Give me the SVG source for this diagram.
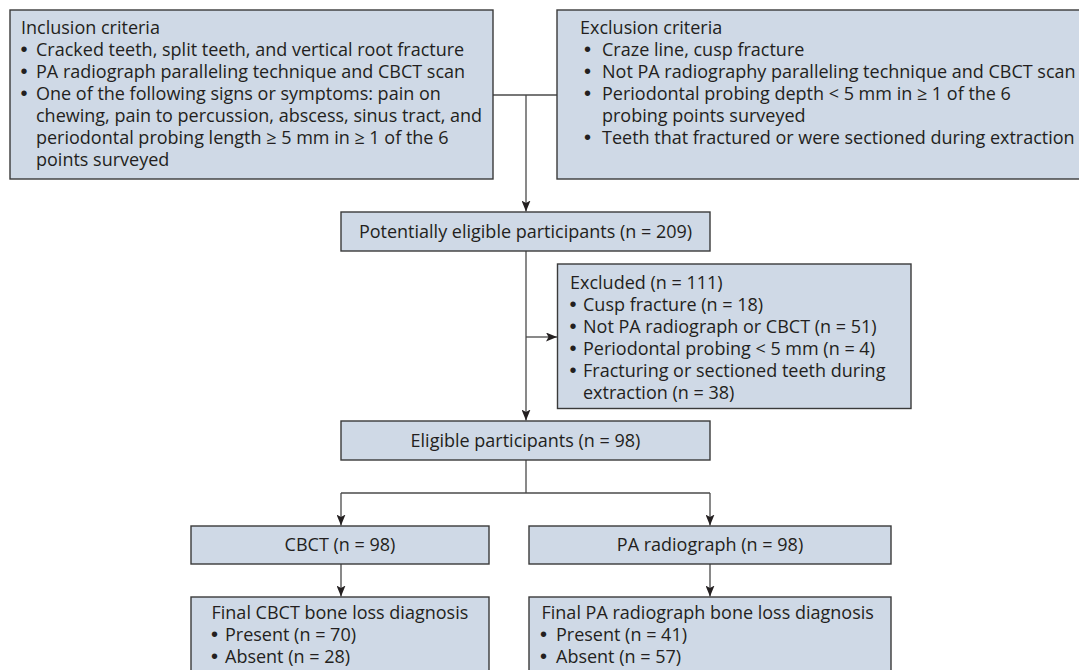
<svg xmlns="http://www.w3.org/2000/svg" width="1079" height="670" viewBox="0 0 1079 670">
<defs>
<style>
.box{fill:#cfd9e6;stroke:#3a3a3a;stroke-width:1.4}
.t{font-family:"Open Sans","Noto Sans","Liberation Sans",sans-serif;font-size:18px;fill:#231f20}
.b{font-family:"Liberation Sans","Arial",sans-serif;font-size:20px}
.c{text-anchor:middle}
.ln{fill:none;stroke:#4a4a4a;stroke-width:1.3}
</style>
<marker id="ah" viewBox="0 0 11 9" refX="11" refY="4.5" markerWidth="11" markerHeight="9" markerUnits="userSpaceOnUse" orient="auto">
<path d="M0,0 L11,4.5 L0,9 L2.5,4.5 Z" fill="#231f20"/>
</marker>
</defs>
<rect width="1079" height="670" fill="#ffffff"/>

<g id="connectors">
<line class="ln" x1="493" y1="95" x2="557" y2="95"/>
<line class="ln" x1="526" y1="95" x2="526" y2="211.5" marker-end="url(#ah)"/>
<line class="ln" x1="526" y1="251" x2="526" y2="420.5" marker-end="url(#ah)"/>
<line class="ln" x1="526" y1="337" x2="557" y2="337" marker-end="url(#ah)"/>
<line class="ln" x1="526" y1="460" x2="526" y2="493"/>
<line class="ln" x1="341" y1="493" x2="710" y2="493"/>
<line class="ln" x1="341" y1="493" x2="341" y2="525.5" marker-end="url(#ah)"/>
<line class="ln" x1="710" y1="493" x2="710" y2="525.5" marker-end="url(#ah)"/>
<line class="ln" x1="341" y1="564" x2="341" y2="596.5" marker-end="url(#ah)"/>
<line class="ln" x1="710" y1="564" x2="710" y2="596.5" marker-end="url(#ah)"/>
</g>

<g id="inclusion">
<rect class="box" x="10" y="10" width="483" height="169"/>
<text class="t" x="21" y="33.5">Inclusion criteria</text>
<text class="t" y="55.5"><tspan class="b" x="20.5">•</tspan><tspan x="36">Cracked teeth, split teeth, and vertical root fracture</tspan></text>
<text class="t" y="77.5"><tspan class="b" x="20.5">•</tspan><tspan x="36">PA radiograph paralleling technique and CBCT scan</tspan></text>
<text class="t" y="99.5"><tspan class="b" x="20.5">•</tspan><tspan x="36">One of the following signs or symptoms: pain on</tspan></text>
<text class="t" x="36" y="121.5">chewing, pain to percussion, abscess, sinus tract, and</text>
<text class="t" x="36" y="143.5">periodontal probing length ≥ 5 mm in ≥ 1 of the 6</text>
<text class="t" x="36" y="165.5">points surveyed</text>
</g>

<g id="exclusion">
<rect class="box" x="557" y="10" width="530" height="169"/>
<text class="t" x="580" y="33.5">Exclusion criteria</text>
<text class="t" y="55.5"><tspan class="b" x="584">•</tspan><tspan x="602">Craze line, cusp fracture</tspan></text>
<text class="t" y="77.5"><tspan class="b" x="584">•</tspan><tspan x="602">Not PA radiography paralleling technique and CBCT scan</tspan></text>
<text class="t" y="99.5"><tspan class="b" x="584">•</tspan><tspan x="602">Periodontal probing depth &lt; 5 mm in ≥ 1 of the 6</tspan></text>
<text class="t" x="602" y="121.5">probing points surveyed</text>
<text class="t" y="143.5"><tspan class="b" x="584">•</tspan><tspan x="602">Teeth that fractured or were sectioned during extraction</tspan></text>
</g>

<g id="potentially">
<rect class="box" x="341" y="212" width="369" height="39"/>
<text class="t c" x="525.5" y="237.5">Potentially eligible participants (n = 209)</text>
</g>

<g id="excluded">
<rect class="box" x="557.5" y="264" width="353.5" height="144.5"/>
<text class="t" x="570" y="288.5">Excluded (n = 111)</text>
<text class="t" y="310.5"><tspan class="b" x="569.5">•</tspan><tspan x="583">Cusp fracture (n = 18)</tspan></text>
<text class="t" y="332.5"><tspan class="b" x="569.5">•</tspan><tspan x="583">Not PA radiograph or CBCT (n = 51)</tspan></text>
<text class="t" y="354.5"><tspan class="b" x="569.5">•</tspan><tspan x="583">Periodontal probing &lt; 5 mm (n = 4)</tspan></text>
<text class="t" y="376.5"><tspan class="b" x="569.5">•</tspan><tspan x="583">Fracturing or sectioned teeth during</tspan></text>
<text class="t" x="583" y="398.5">extraction (n = 38)</text>
</g>

<g id="eligible">
<rect class="box" x="341" y="421" width="369" height="39"/>
<text class="t c" x="525.5" y="446.5">Eligible participants (n = 98)</text>
</g>

<g id="cbct">
<rect class="box" x="191" y="526" width="298" height="38"/>
<text class="t c" x="340" y="550.7">CBCT (n = 98)</text>
</g>

<g id="pa">
<rect class="box" x="529" y="526" width="362" height="38"/>
<text class="t c" x="710" y="550.7">PA radiograph (n = 98)</text>
</g>

<g id="final-cbct">
<rect class="box" x="191" y="597" width="298" height="90"/>
<text class="t" x="211.5" y="618.5">Final CBCT bone loss diagnosis</text>
<text class="t" y="640.5"><tspan class="b" x="211">•</tspan><tspan x="225">Present (n = 70)</tspan></text>
<text class="t" y="662.5"><tspan class="b" x="211">•</tspan><tspan x="225">Absent (n = 28)</tspan></text>
</g>

<g id="final-pa">
<rect class="box" x="529" y="597" width="362" height="90"/>
<text class="t" x="541.5" y="618.5">Final PA radiograph bone loss diagnosis</text>
<text class="t" y="640.5"><tspan class="b" x="540">•</tspan><tspan x="556">Present (n = 41)</tspan></text>
<text class="t" y="662.5"><tspan class="b" x="540">•</tspan><tspan x="556">Absent (n = 57)</tspan></text>
</g>
</svg>
